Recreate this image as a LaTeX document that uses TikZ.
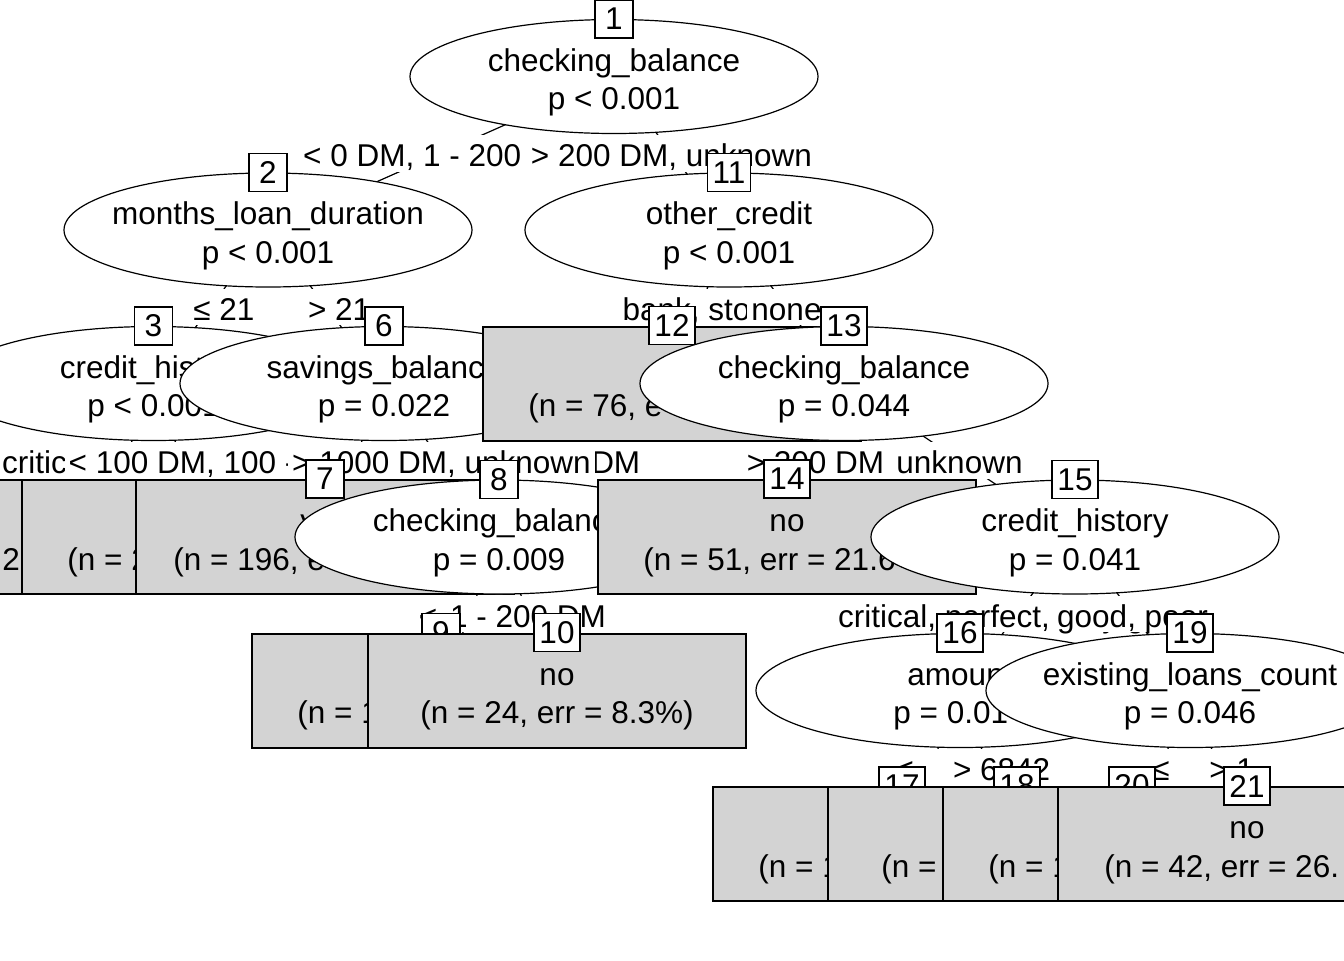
\documentclass[tikz,border=0pt]{standalone}
\usepackage{fontspec}
\setmainfont{Liberation Sans}
\usetikzlibrary{shapes.geometric}
\definecolor{leafgray}{RGB}{211,211,211}
\tikzstyle{edge} = [draw, line width=0.6pt]
\tikzstyle{inner} = [ellipse, draw, fill=white, line width=0.6pt, minimum width=204pt, minimum height=57pt, inner sep=0pt]
\tikzstyle{leaf} = [rectangle, draw, fill=leafgray, line width=1pt, minimum width=189pt, minimum height=57pt, inner sep=0pt]
\tikzstyle{nodeid} = [rectangle, draw, fill=white, line width=0.6pt, minimum width=19pt, minimum height=19pt, inner xsep=2.7pt, inner ysep=0pt]
\tikzstyle{split} = [fill=white, inner xsep=2pt, inner ysep=0pt, text height=15.75pt, text depth=2.5pt, anchor=base]
\tikzstyle{lineA} = [inner sep=0pt, anchor=base, yshift=2.75pt]
\tikzstyle{lineB} = [inner sep=0pt, anchor=base, yshift=-16.5pt]

\begin{document}
\begin{tikzpicture}[x=0.5pt, y=-0.5pt, font=\fontsize{15.75}{19}\selectfont]
  \useasboundingbox (0,0) rectangle (1344,960);
  \clip (0,0) rectangle (1344,960);
  % node centres
  \coordinate (c1) at (614,76.5);
  \coordinate (c2) at (268,230);
  \coordinate (c3) at (153.5,383.5);
  \coordinate (c4) at (96,537);
  \coordinate (c5) at (211,537);
  \coordinate (c6) at (384,383.5);
  \coordinate (c7) at (325,537);
  \coordinate (c8) at (499,537);
  \coordinate (c9) at (441,690.5);
  \coordinate (c10) at (557,690.5);
  \coordinate (c11) at (729,230);
  \coordinate (c12) at (672,383.5);
  \coordinate (c13) at (844,383.5);
  \coordinate (c14) at (787,537);
  \coordinate (c15) at (1075,537);
  \coordinate (c16) at (960,690.5);
  \coordinate (c17) at (902,844);
  \coordinate (c18) at (1017,844);
  \coordinate (c19) at (1190,690.5);
  \coordinate (c20) at (1132,844);
  \coordinate (c21) at (1247,844);

  % root
  \path [edge] (c1) -- (c2);
  \node [split] (e2) at (441,166.75) {< 0 DM, 1 - 200 DM};
  \path [edge] (c1) -- (c11);
  \node [split] (e11) at (671.5,166.75) {> 200 DM, unknown};

  % months_loan_duration
  \path [edge] (c2) -- (c3);
  \node [split] (e3) at (210.75,320.25) {\phantom{0}\ ≤ 21};
  \path [edge] (c2) -- (c6);
  \node [split] (e6) at (326,320.25) {\phantom{0}\ > 21};

  % credit_history
  \path [edge] (c3) -- (c4);
  \node [split] (e4) at (124.75,473.75) {critical, very good};
  \path [edge] (c3) -- (c5);
  \node [leaf] (n4) at (c4) {};
  \node [lineB, anchor=base west] (t4) at (2,537) {2};
  \node [leaf] (n5) at (c5) {};
  \node [lineB, anchor=base west] (t5) at (67,537) {(n = 2};
  \node [inner] (n3) at (c3) {};
  \node [lineA] (t3a) at (c3) {credit\_history};
  \node [lineB] (t3b) at (c3) {p < 0.001};
  \node [nodeid] (i3) at (n3.north) {3};

  % savings_balance
  \path [edge] (c6) -- (c7);
  \node [split] (e7) at (354.5,473.75) {< 100 DM, 100 - 500 DM, 500 - 1000 DM};
  \path [edge] (c6) -- (c8);
  \node [split] (e8) at (441.5,473.75) {> 1000 DM, unknown};
  \node [leaf] (n7) at (c7) {};
  \node [lineA] (t7a) at (c7) {yes};
  \node [lineB, anchor=base west] (t7b) at (173,537) {(n = 196, e};
  \node [nodeid] (i7) at (n7.north) {7};

  % checking_balance
  \path [edge] (c8) -- (c9);
  \node [split] (e9) at (470,627.25) {< 0 DM};
  \path [edge] (c8) -- (c10);
  \node [split] (e10) at (528,627.25) {1 - 200 DM};
  \node [leaf] (n9) at (c9) {};
  \node [lineB, anchor=base west] (t9) at (297,690.5) {(n = 1};
  \node [nodeid] (i9) at (n9.north) {9};
  \node [leaf] (n10) at (c10) {};
  \node [lineA] (t10a) at (c10) {no};
  \node [lineB] (t10b) at (c10) {(n = 24, err = 8.3\%)};
  \node [nodeid] (i10) at (n10.north) {10};
  \node [inner] (n8) at (c8) {};
  \node [lineA] (t8a) at (c8) {checking\_balance};
  \node [lineB] (t8b) at (c8) {p = 0.009};
  \node [nodeid] (i8) at (n8.north) {8};

  \node [inner] (n6) at (c6) {};
  \node [lineA] (t6a) at (c6) {savings\_balance};
  \node [lineB] (t6b) at (c6) {p = 0.022};
  \node [nodeid] (i6) at (n6.north) {6};

  \node [inner] (n2) at (c2) {};
  \node [lineA] (t2a) at (c2) {months\_loan\_duration};
  \node [lineB] (t2b) at (c2) {p < 0.001};
  \node [nodeid] (i2) at (n2.north) {2};

  % other_credit
  \path [edge] (c11) -- (c12);
  \node [split] (e12) at (700.5,320.25) {bank, store};
  \path [edge] (c11) -- (c13);
  \node [split] (e13) at (786.5,320.25) {none};
  \node [leaf] (n12) at (c12) {};
  \node [lineB, anchor=base west] (t12) at (528,383.5) {(n = 76, e};
  \node [nodeid] (i12) at (n12.north) {12};

  % checking_balance
  \path [edge] (c13) -- (c14);
  \node [split] (e14) at (815.5,473.75) {> 200 DM};
  \path [edge] (c13) -- (c15);
  \node [split] (e15) at (959.5,473.75) {unknown};
  \node [leaf] (n14) at (c14) {};
  \node [lineA] (t14a) at (c14) {no};
  \node [lineB, anchor=base west] (t14b) at (643,537) {(n = 51, err = 21.6};
  \node [nodeid] (i14) at (n14.north) {14};

  % credit_history
  \path [edge] (c15) -- (c16);
  \node [split] (e16) at (1017.5,627.25) {critical, perfect, very good};
  \path [edge] (c15) -- (c19);
  \node [split] (e19) at (1132.5,627.25) {good, poor};

  % amount
  \path [edge] (c16) -- (c17);
  \node [split] (e17) at (931,780.75) {\phantom{0}\ ≤ 6842};
  \path [edge] (c16) -- (c18);
  \node [split] (e18) at (988.5,780.75) {\phantom{0}\ > 6842};
  \node [leaf] (n17) at (c17) {};
  \node [lineB, anchor=base west] (t17) at (758,844) {(n = 1};
  \node [nodeid] (i17) at (n17.north) {17};
  \node [leaf] (n18) at (c18) {};
  \node [lineB, anchor=base west] (t18) at (881,844) {(n =};
  \node [nodeid] (i18) at (n18.north) {18};
  \node [inner] (n16) at (c16) {};
  \node [lineA] (t16a) at (c16) {amount};
  \node [lineB, anchor=base west] (t16b) at (893,690.5) {p = 0.01};
  \node [nodeid] (i16) at (n16.north) {16};

  % existing_loans_count
  \path [edge] (c19) -- (c20);
  \node [split] (e20) at (1161,780.75) {\phantom{0}\ ≤ 1};
  \path [edge] (c19) -- (c21);
  \node [split] (e21) at (1218.5,780.75) {\phantom{0}\ > 1};
  \node [leaf] (n20) at (c20) {};
  \node [lineB, anchor=base west] (t20) at (988,844) {(n = 1};
  \node [nodeid] (i20) at (n20.north) {20};
  \node [leaf] (n21) at (c21) {};
  \node [lineA] (t21a) at (c21) {no};
  \node [lineB, anchor=base west] (t21b) at (1104,844) {(n = 42, err = 26.};
  \node [nodeid] (i21) at (n21.north) {21};
  \node [inner] (n19) at (c19) {};
  \node [lineA] (t19a) at (c19) {existing\_loans\_count};
  \node [lineB] (t19b) at (c19) {p = 0.046};
  \node [nodeid] (i19) at (n19.north) {19};

  \node [inner] (n15) at (c15) {};
  \node [lineA] (t15a) at (c15) {credit\_history};
  \node [lineB] (t15b) at (c15) {p = 0.041};
  \node [nodeid] (i15) at (n15.north) {15};

  \node [inner] (n13) at (c13) {};
  \node [lineA] (t13a) at (c13) {checking\_balance};
  \node [lineB] (t13b) at (c13) {p = 0.044};
  \node [nodeid] (i13) at (n13.north) {13};

  \node [inner] (n11) at (c11) {};
  \node [lineA] (t11a) at (c11) {other\_credit};
  \node [lineB] (t11b) at (c11) {p < 0.001};
  \node [nodeid] (i11) at (n11.north) {11};

  \node [inner] (n1) at (c1) {};
  \node [lineA] (t1a) at (c1) {checking\_balance};
  \node [lineB] (t1b) at (c1) {p < 0.001};
  \node [nodeid] (i1) at (n1.north) {1};
\end{tikzpicture}
\end{document}
